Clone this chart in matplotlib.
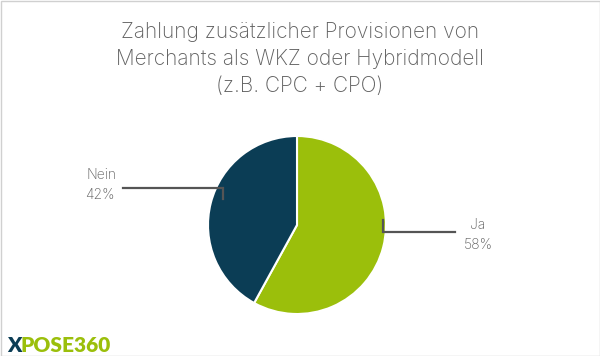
import numpy as np
import matplotlib.pyplot as plt
from matplotlib.patches import Rectangle

# data
labels = ["Ja", "Nein"]
shares = [58, 42]
colors = ["#9BBF0B", "#0B3D55"]
title = "Zahlung zusätzlicher Provisionen von\nMerchants als WKZ oder Hybridmodell\n(z.B. CPC + CPO)"

W, H = 600, 356
fig = plt.figure(figsize=(W / 100, H / 100), dpi=100)
ax = fig.add_axes([0, 0, 1, 1])

# pie in pixel units (y up)
cx, cy, r = 297, 356 - 225, 89
wedges, _ = ax.pie(shares, colors=colors, startangle=90, counterclock=False,
                   center=(cx, cy), radius=r, frame=True,
                   wedgeprops=dict(edgecolor="white", linewidth=1.5))
ax.set_xlim(0, W)
ax.set_ylim(0, H)
ax.axis("off")

txt = "#606060"
line_c = "#555555"
font = dict(family="Inter", fontweight="light", color=txt)

# leader lines + labels
# Ja
ax.plot([383, 383, 455], [H - 220, H - 232, H - 232], color=line_c, lw=1.6,
        solid_joinstyle="miter")
ax.text(478, H - 225, labels[0], ha="center", va="center", fontsize=10, **font)
ax.text(478, H - 245, f"{shares[0]}%", ha="center", va="center", fontsize=10, **font)
# Nein
ax.plot([123, 223, 223], [H - 188, H - 188, H - 199], color=line_c, lw=1.6,
        solid_joinstyle="miter")
ax.text(102, H - 175, labels[1], ha="center", va="center", fontsize=10, **font)
ax.text(100, H - 195, f"{shares[1]}%", ha="center", va="center", fontsize=10, **font)

# title
ax.text(300, H - 59, title, ha="center", va="center", fontsize=15,
        linespacing=1.42, **font)

# logo
ax.text(7, H - 345, "X", ha="left", va="center", fontsize=15,
        color=colors[1], family="Lato", fontweight="heavy")
ax.text(21, H - 345, "POSE360", ha="left", va="center", fontsize=15,
        color=colors[0], family="Lato", fontweight="heavy")

# light border
ax.add_patch(Rectangle((0.5, 0.5), W - 1, H - 1, fill=False,
                       edgecolor="#d0d0d0", lw=1))

fig.savefig("out.png", dpi=100)
